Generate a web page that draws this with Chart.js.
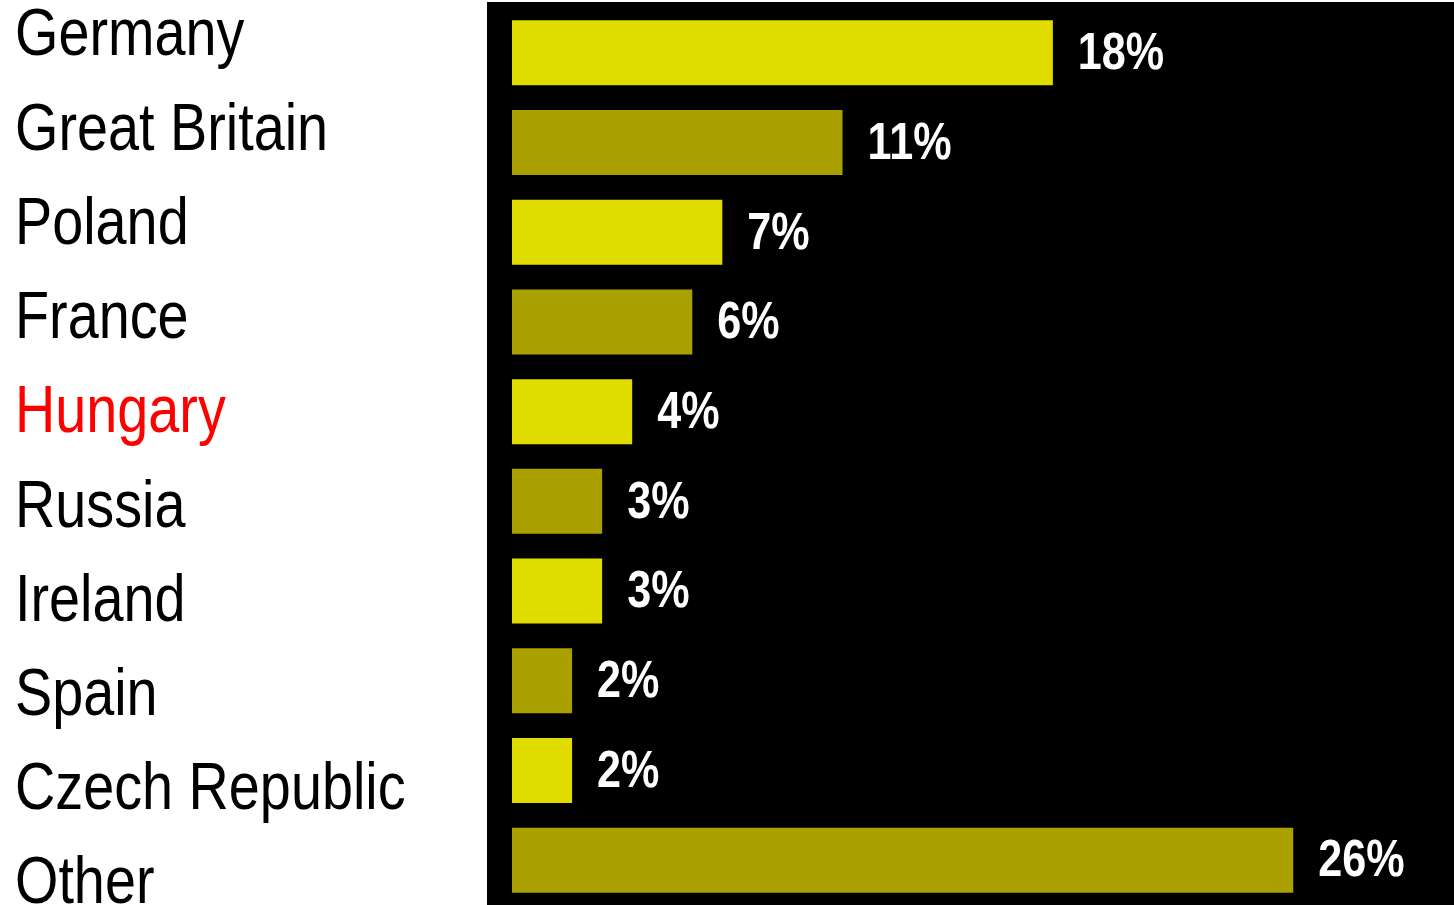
<!DOCTYPE html>
<html>
<head>
<meta charset="utf-8">
<script src="https://cdn.jsdelivr.net/npm/chart.js@4/dist/chart.umd.min.js"></script>
<style>
html,body{margin:0;padding:0;background:#fff;}
#wrap{width:1454px;height:905px;position:relative;}
</style>
</head>
<body>
<div id="wrap"><canvas id="c"></canvas></div>
<script>
const categories = ["Germany","Great Britain","Poland","France","Hungary","Russia","Ireland","Spain","Czech Republic","Other"];
const shares = [18, 11, 7, 6, 4, 3, 3, 2, 2, 26];
const valueLabels = ["18%","11%","7%","6%","4%","3%","3%","2%","2%","26%"];
const highlighted = "Hungary";

const BRIGHT = "#e0dc00";
const OLIVE = "#aaa100";
const SANS = '"Liberation Sans", Arial, sans-serif';
const NAME_SQUEEZE = 0.845;
const VALUE_SQUEEZE = 0.83;

const panelPlugin = {
  id: 'panel',
  beforeDatasetsDraw(chart) {
    const {ctx, chartArea} = chart;
    ctx.save();
    ctx.fillStyle = '#000';
    ctx.fillRect(chartArea.left - 25, chartArea.top - 6, chart.width - (chartArea.left - 25), chart.height - (chartArea.top - 6));
    ctx.restore();
  }
};

// narrow (condensed) rendering of the category tick labels
const narrowTicksPlugin = {
  id: 'narrowTicks',
  afterLayout(chart) {
    const s = chart.scales.names;
    if (s && !s._narrowed) {
      const orig = s.drawLabels;
      s.drawLabels = function (area) {
        const c = this.ctx;
        c.save();
        c.translate(this.left, 0);
        c.scale(NAME_SQUEEZE, 1);
        c.translate(-this.left, 0);
        orig.call(this, area);
        c.restore();
      };
      s._narrowed = true;
    }
  }
};

const valuePlugin = {
  id: 'values',
  afterDatasetsDraw(chart) {
    const {ctx} = chart;
    const meta = chart.getDatasetMeta(0);
    ctx.save();
    ctx.fillStyle = '#fff';
    ctx.font = 'bold 52px ' + SANS;
    ctx.textAlign = 'left';
    ctx.textBaseline = 'middle';
    meta.data.forEach((bar, i) => {
      const x = bar.x + 25, y = bar.y + 2;
      ctx.save();
      ctx.translate(x, y);
      ctx.scale(VALUE_SQUEEZE, 1);
      ctx.fillText(valueLabels[i], 0, 0);
      ctx.restore();
    });
    ctx.restore();
  }
};

new Chart(document.getElementById('c'), {
  type: 'bar',
  data: {
    labels: categories,
    datasets: [{
      data: shares,
      backgroundColor: shares.map((v, i) => i % 2 === 0 ? BRIGHT : OLIVE),
      borderWidth: 0,
      categoryPercentage: 1,
      barPercentage: 0.725,
      yAxisID: 'y'
    }]
  },
  options: {
    indexAxis: 'y',
    responsive: true,
    maintainAspectRatio: false,
    devicePixelRatio: 1,
    animation: false,
    layout: {padding: {top: 8, left: 15, right: 0, bottom: 0}},
    plugins: {legend: {display: false}, tooltip: {enabled: false}},
    scales: {
      x: {display: false, min: 0, max: 31.35},
      y: {type: 'category', display: false, offset: true},
      names: {
        type: 'linear',
        position: 'left',
        reverse: true,
        offset: false,
        min: -0.31,
        max: 9.21,
        grid: {display: false},
        border: {display: false},
        afterBuildTicks(scale) {
          scale.ticks = categories.map((c, i) => ({value: i}));
        },
        afterFit(scale) {
          scale.width = 497;
          scale.paddingTop = 0;
          scale.paddingBottom = 0;
        },
        ticks: {
          crossAlign: 'far',
          padding: 0,
          autoSkip: false,
          font: {family: SANS, size: 66},
          color: (ctx) => categories[ctx.index] === highlighted ? '#ff0000' : '#000',
          callback: (v) => categories[v]
        }
      }
    }
  },
  plugins: [panelPlugin, narrowTicksPlugin, valuePlugin]
});
</script>
</body>
</html>
